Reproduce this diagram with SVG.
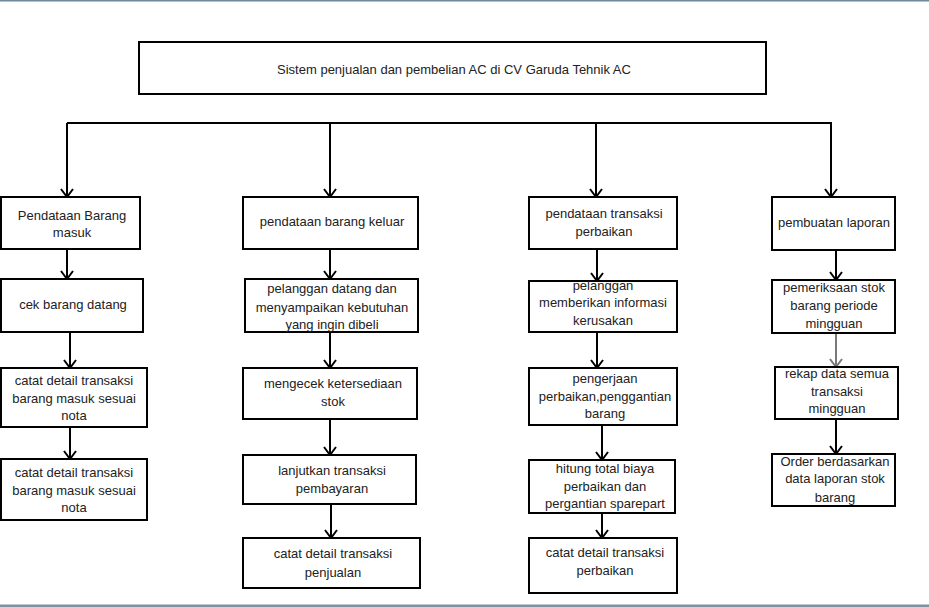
<svg xmlns="http://www.w3.org/2000/svg" width="929" height="607" viewBox="0 0 929 607">
<style>
.b{fill:#fff;stroke:#000;stroke-width:2}
.t{font-family:"Liberation Sans",Arial,sans-serif;font-size:13px;fill:#222;text-anchor:middle}
.c{fill:none;stroke:#000;stroke-width:2}
</style>
<defs>
<marker id="ah" viewBox="0 0 10 14" refX="9" refY="7" markerWidth="10" markerHeight="14" orient="auto" markerUnits="userSpaceOnUse">
<path d="M1,1 L9,7 L1,13" fill="none" stroke="#000" stroke-width="2"/>
</marker>
<marker id="ahg" viewBox="0 0 10 14" refX="9" refY="7" markerWidth="10" markerHeight="14" orient="auto" markerUnits="userSpaceOnUse">
<path d="M1,1 L9,7 L1,13" fill="none" stroke="#7a7a7a" stroke-width="2"/>
</marker>
</defs>
<rect x="0" y="0" width="929" height="607" fill="#fff"/>
<rect x="0" y="0" width="929" height="1.5" fill="#6b8a9c"/>
<rect x="0" y="604.5" width="929" height="2.5" fill="#7d919e"/>

<g id="title">
<rect class="b" x="139" y="42" width="627" height="52"/>
<text class="t" x="454" y="74">Sistem penjualan dan pembelian AC di CV Garuda Tehnik AC</text>
</g>

<g id="connectors">
<path class="c" d="M67,123 H832"/>
<path class="c" d="M67,123 V197" marker-end="url(#ah)"/>
<path class="c" d="M330,123 V197" marker-end="url(#ah)"/>
<path class="c" d="M596,123 V197" marker-end="url(#ah)"/>
<path class="c" d="M831,123 V197" marker-end="url(#ah)"/>

<path class="c" d="M67,250 V279" marker-end="url(#ah)"/>
<path class="c" d="M70,332 V368" marker-end="url(#ah)"/>
<path class="c" d="M70,427 V459" marker-end="url(#ah)"/>

<path class="c" d="M330,249 V279" marker-end="url(#ah)"/>
<path class="c" d="M330,332 V368" marker-end="url(#ah)"/>
<path class="c" d="M330,419 V455" marker-end="url(#ah)"/>
<path class="c" d="M331,504 V538" marker-end="url(#ah)"/>

<path class="c" d="M597,249 V281" marker-end="url(#ah)"/>
<path class="c" d="M597,332 V368" marker-end="url(#ah)"/>
<path class="c" d="M602,425 V460" marker-end="url(#ah)"/>
<path class="c" d="M602,513 V538" marker-end="url(#ah)"/>

<path class="c" d="M836,250 V280" marker-end="url(#ah)"/>
<path d="M836,333 V367" fill="none" stroke="#7a7a7a" stroke-width="2" marker-end="url(#ahg)"/>
<path class="c" d="M836,419 V454" marker-end="url(#ah)"/>
</g>

<g id="n1">
<rect class="b" x="1" y="197" width="139" height="52"/>
<text class="t" x="72" y="220">Pendataan Barang</text>
<text class="t" x="72" y="237">masuk</text>
</g>
<g id="n1a">
<rect class="b" x="1" y="279" width="142" height="53"/>
<text class="t" x="73" y="309">cek barang datang</text>
</g>
<g id="n1b">
<rect class="b" x="1" y="368" width="146" height="59"/>
<text class="t" x="74" y="385">catat detail transaksi</text>
<text class="t" x="74" y="403">barang masuk sesuai</text>
<text class="t" x="74" y="420">nota</text>
</g>
<g id="n1c">
<rect class="b" x="1" y="459" width="146" height="61"/>
<text class="t" x="74" y="477">catat detail transaksi</text>
<text class="t" x="74" y="495">barang masuk sesuai</text>
<text class="t" x="74" y="512">nota</text>
</g>

<g id="n2">
<rect class="b" x="243" y="197" width="175" height="52"/>
<text class="t" x="332" y="226">pendataan barang keluar</text>
</g>
<g id="n2a">
<rect class="b" x="245" y="279" width="173" height="53"/>
<text class="t" x="332" y="293">pelanggan datang dan</text>
<text class="t" x="332" y="312">menyampaikan kebutuhan</text>
<text class="t" x="332" y="329">yang ingin dibeli</text>
</g>
<g id="n2b">
<rect class="b" x="243" y="368" width="174" height="51"/>
<text class="t" x="333" y="388">mengecek ketersediaan</text>
<text class="t" x="333" y="406">stok</text>
</g>
<g id="n2c">
<rect class="b" x="243" y="455" width="173" height="49"/>
<text class="t" x="332" y="475">lanjutkan transaksi</text>
<text class="t" x="332" y="493">pembayaran</text>
</g>
<g id="n2d">
<rect class="b" x="243" y="538" width="177" height="50"/>
<text class="t" x="333" y="558">catat detail transaksi</text>
<text class="t" x="333" y="577">penjualan</text>
</g>

<g id="n3">
<rect class="b" x="529" y="197" width="148" height="52"/>
<text class="t" x="604" y="218">pendataan transaksi</text>
<text class="t" x="604" y="236">perbaikan</text>
</g>
<g id="n3a">
<rect class="b" x="529" y="281" width="148" height="51"/>
<text class="t" x="603" y="290">pelanggan</text>
<text class="t" x="603" y="307">memberikan informasi</text>
<text class="t" x="603" y="325">kerusakan</text>
</g>
<g id="n3b">
<rect class="b" x="529" y="368" width="148" height="57"/>
<text class="t" x="605" y="383">pengerjaan</text>
<text class="t" x="605" y="401">perbaikan,penggantian</text>
<text class="t" x="605" y="418">barang</text>
</g>
<g id="n3c">
<rect class="b" x="529" y="460" width="146" height="53"/>
<text class="t" x="605" y="473">hitung total biaya</text>
<text class="t" x="605" y="491">perbaikan dan</text>
<text class="t" x="605" y="508">pergantian sparepart</text>
</g>
<g id="n3d">
<rect class="b" x="529" y="538" width="148" height="55"/>
<text class="t" x="605" y="557">catat detail transaksi</text>
<text class="t" x="605" y="575">perbaikan</text>
</g>

<g id="n4">
<rect class="b" x="772" y="197" width="123" height="53"/>
<text class="t" x="834" y="227">pembuatan laporan</text>
</g>
<g id="n4a">
<rect class="b" x="772" y="280" width="123" height="53"/>
<text class="t" x="834" y="292">pemeriksaan stok</text>
<text class="t" x="834" y="310">barang periode</text>
<text class="t" x="834" y="328">mingguan</text>
</g>
<g id="n4b">
<rect class="b" x="775" y="367" width="123" height="52"/>
<text class="t" x="837" y="378">rekap data semua</text>
<text class="t" x="837" y="396">transaksi</text>
<text class="t" x="837" y="413">mingguan</text>
</g>
<g id="n4c">
<rect class="b" x="772" y="454" width="123" height="52"/>
<text class="t" x="835" y="466">Order berdasarkan</text>
<text class="t" x="835" y="483">data laporan stok</text>
<text class="t" x="835" y="502">barang</text>
</g>
</svg>
